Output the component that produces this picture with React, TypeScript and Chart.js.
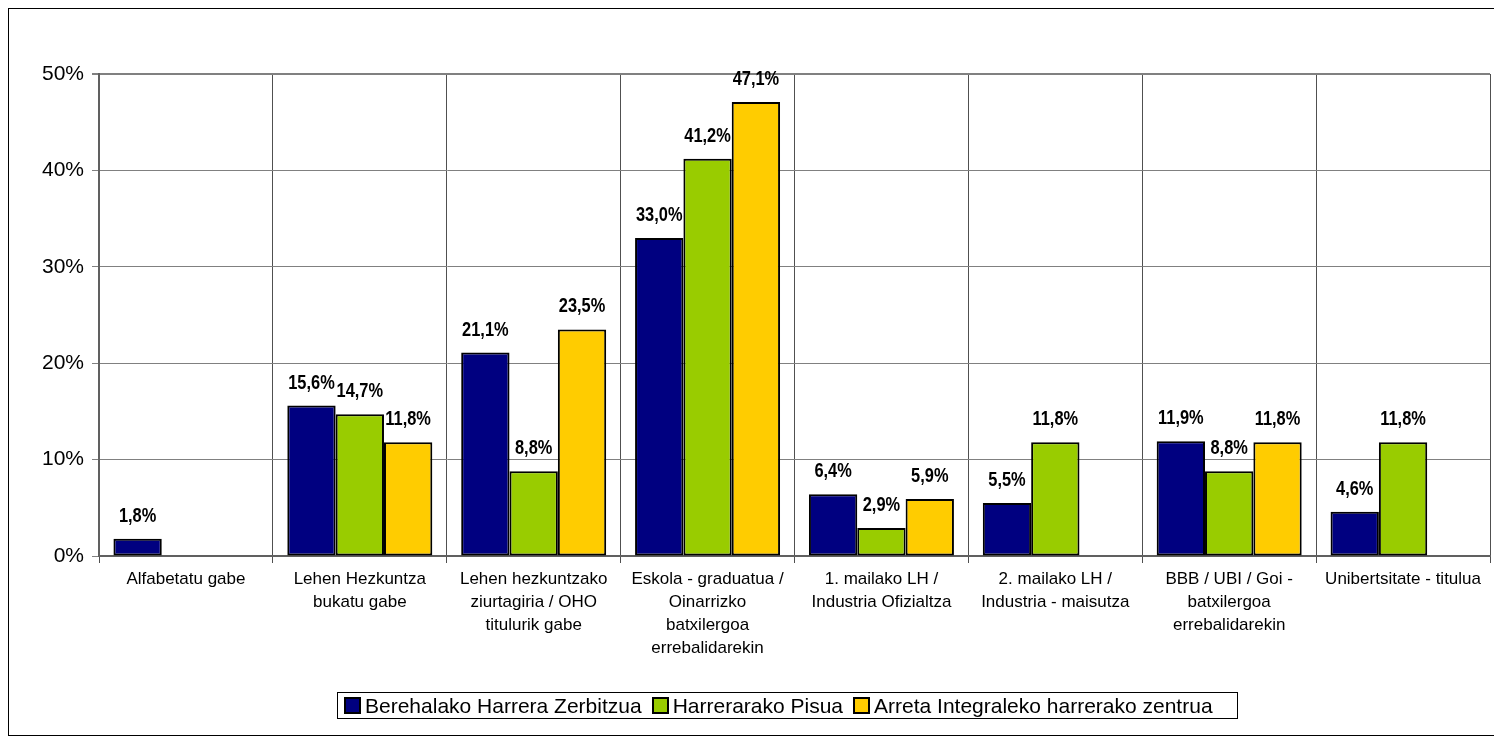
import React, { useEffect, useRef } from "react";
import { Chart, registerables } from "chart.js";

Chart.register(...registerables);

const categories: string[][] = [
  ["Alfabetatu gabe"],
  ["Lehen Hezkuntza", "bukatu gabe"],
  ["Lehen hezkuntzako", "ziurtagiria / OHO", "titulurik gabe"],
  ["Eskola - graduatua /", "Oinarrizko", "batxilergoa", "errebalidarekin"],
  ["1. mailako LH /", "Industria Ofizialtza"],
  ["2. mailako LH /", "Industria - maisutza"],
  ["BBB / UBI / Goi -", "batxilergoa", "errebalidarekin"],
  ["Unibertsitate - titulua"],
];

const seriesNames = [
  "Berehalako Harrera Zerbitzua",
  "Harrerarako Pisua",
  "Arreta Integraleko harrerako zentrua",
];

const berehalako: (number | null)[] = [1.8, 15.6, 21.1, 33.0, 6.4, 5.5, 11.9, 4.6];
const pisua: (number | null)[] = [null, 14.7, 8.8, 41.2, 2.9, 11.8, 8.8, 11.8];
const arreta: (number | null)[] = [null, 11.8, 23.5, 47.1, 5.9, null, 11.8, null];

const colors = ["#000080", "#99CC00", "#FFCC00"];
const yTicks = [0, 10, 20, 30, 40, 50];

const FONT = '"Liberation Sans", Arial, sans-serif';

const dataLabelPlugin = {
  id: "dataLabels",
  afterDatasetsDraw(chart: any) {
    const ctx = chart.ctx;
    const sx = 0.82;
    chart.data.datasets.forEach((ds: any, di: number) => {
      const meta = chart.getDatasetMeta(di);
      meta.data.forEach((el: any, i: number) => {
        const v = ds.data[i];
        if (v === null || v === undefined) return;
        const txt = v.toFixed(1).replace(".", ",") + "%";
        ctx.save();
        ctx.font = `bold 20px ${FONT}`;
        ctx.fillStyle = "#000";
        ctx.textAlign = "center";
        ctx.textBaseline = "alphabetic";
        ctx.translate(el.x, el.y - 17);
        ctx.scale(sx, 1);
        ctx.fillText(txt, 0, 0);
        ctx.restore();
      });
    });
  },
};

export default function App() {
  const ref = useRef<HTMLCanvasElement>(null);
  useEffect(() => {
    if (!ref.current) return;
    const data = [berehalako, pisua, arreta];
    const chart = new Chart(ref.current, {
      type: "bar",
      data: {
        labels: categories,
        datasets: seriesNames.map((name, i) => ({
          label: name,
          data: data[i],
          backgroundColor: colors[i],
          borderColor: "#000",
          borderWidth: 2,
          borderSkipped: false,
          categoryPercentage: 0.834,
          barPercentage: 1,
        })),
      },
      options: {
        responsive: false,
        animation: false,
        layout: { padding: { top: 65, right: 11, left: 0, bottom: 59 } },
        plugins: {
          legend: { display: false },
          tooltip: { enabled: false },
        },
        scales: {
          x: {
            afterFit: (s: any) => {
              s.height = 120;
            },
            grid: {
              offset: true,
              color: "#505050",
              lineWidth: 1,
              tickLength: 7,
              drawOnChartArea: true,
            },
            border: { color: "#606060", width: 2 },
            ticks: {
              color: "#000",
              padding: 5,
              maxRotation: 0,
              autoSkip: false,
              font: { family: FONT, size: 17, lineHeight: "23px" },
            },
          },
          y: {
            min: 0,
            max: 50,
            afterFit: (s: any) => {
              s.width = 90;
            },
            afterBuildTicks: (s: any) => {
              s.ticks = yTicks.map((v) => ({ value: v }));
            },
            grid: {
              color: "#808080",
              lineWidth: (c: any) => (c.tick && c.tick.value === 50 ? 2 : 1),
              tickLength: 7,
            },
            border: { color: "#606060", width: 2 },
            ticks: {
              color: "#000",
              padding: 8,
              font: { family: FONT, size: 21 },
              callback: (v: any) => v + "%",
            },
          },
        },
      },
      plugins: [dataLabelPlugin],
    });
    return () => chart.destroy();
  }, []);

  return (
    <div
      style={{
        position: "relative",
        width: 1492,
        height: 726,
        border: "1px solid #000",
        background: "#fff",
      }}
    >
      <canvas ref={ref} width={1492} height={726} style={{ display: "block" }} />
      <div
        style={{
          position: "absolute",
          left: 328,
          top: 683,
          width: 893,
          height: 25,
          border: "1px solid #000",
          display: "flex",
          alignItems: "center",
          justifyContent: "flex-start",
          paddingLeft: 6,
          boxSizing: "content-box",
          fontFamily: FONT,
          fontSize: 21,
          lineHeight: "25px",
          color: "#000",
          whiteSpace: "nowrap",
        }}
      >
        {seriesNames.map((n, i) => (
          <span key={n} style={{ display: "flex", alignItems: "center", marginRight: i < 2 ? 10 : 0 }}>
            <span
              style={{
                display: "inline-block",
                width: 13,
                height: 13,
                background: colors[i],
                border: "2px solid #000",
                marginRight: 4,
              }}
            />
            {n}
          </span>
        ))}
      </div>
    </div>
  );
}
